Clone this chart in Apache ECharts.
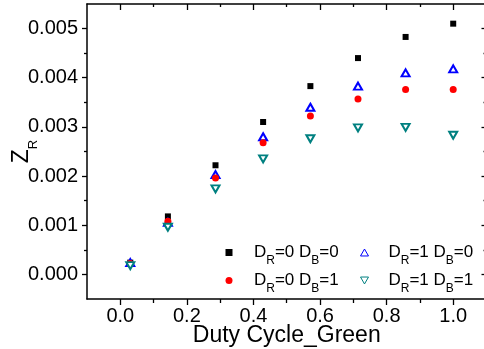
<!DOCTYPE html>
<html>
<head>
<meta charset="utf-8">
<script src="https://cdn.jsdelivr.net/npm/echarts@6/dist/echarts.min.js"></script>
<style>
html,body{margin:0;padding:0;background:#fff;}
#chart{width:484px;height:349px;}
</style>
</head>
<body>
<div id="chart"></div>
<script>
// ---- data ----
var xValues = [0.03, 0.143, 0.286, 0.429, 0.571, 0.714, 0.857, 1.0];
var seriesNames = ['DR=0 DB=0', 'DR=0 DB=1', 'DR=1 DB=0', 'DR=1 DB=1'];
var yR0B0 = [0.00024, 0.00118, 0.00222, 0.00310, 0.00383, 0.00440, 0.00483, 0.00510];
var yR0B1 = [0.00022, 0.00108, 0.00196, 0.00268, 0.00322, 0.00357, 0.00376, 0.00376];
var yR1B0 = [0.00024, 0.00106, 0.00203, 0.00280, 0.00340, 0.00383, 0.00410, 0.00418];
var yR1B1 = [0.00018, 0.00096, 0.00174, 0.00235, 0.00276, 0.00298, 0.00299, 0.00283];
var xTicks = [0.0, 0.2, 0.4, 0.6, 0.8, 1.0];
var xMinorTicks = [0.1, 0.3, 0.5, 0.7, 0.9];
var yTicks = [0.000, 0.001, 0.002, 0.003, 0.004, 0.005];
var yMinorTicks = [0.0005, 0.0015, 0.0025, 0.0035, 0.0045];
var xLabelsText = ['0.0', '0.2', '0.4', '0.6', '0.8', '1.0'];
var yLabelsText = ['0.000', '0.001', '0.002', '0.003', '0.004', '0.005'];

var FONT = '"Liberation Sans", Arial, sans-serif';
function pairs(ys) { return ys.map(function (y, i) { return [xValues[i], y]; }); }
function richName(name) {
  return ('{m|' + name.replace(/D([RB])/g, 'D}{s|$1}{m|') + '}').replace(/^\{m\|/, '{f|');
}
function labelFor(ticks, texts) {
  return function (v) {
    for (var i = 0; i < ticks.length; i++) if (Math.abs(ticks[i] - v) < 1e-9) return texts[i];
    return '';
  };
}

var XMIN = -0.1, XMAX = 1.1, YMIN = -0.0005, YMAX = 0.0055;
var lineStyle = { color: '#000', width: 1.5 };

function xAxisDef(pos, show, ticks, len, inside, labels) {
  return {
    type: 'value', position: pos, min: XMIN, max: XMAX, gridIndex: 0,
    splitLine: { show: false },
    axisLine: { show: show, onZero: false, lineStyle: lineStyle },
    axisTick: { show: true, inside: inside, length: len, customValues: ticks, lineStyle: { color: '#000', width: 1.3 } },
    axisLabel: labels ? { show: true, customValues: xTicks, formatter: labelFor(xTicks, xLabelsText), fontFamily: FONT, fontSize: 20, color: '#000', margin: 7 } : { show: false },
    name: labels ? 'Duty Cycle_Green' : '',
    nameLocation: 'middle', nameGap: 25, nameMoveOverlap: false,
    nameTextStyle: { fontFamily: FONT, fontSize: 23, color: '#000' }
  };
}
function yAxisDef(pos, show, ticks, len, inside, labels) {
  return {
    type: 'value', position: pos, min: YMIN, max: YMAX, gridIndex: 0,
    splitLine: { show: false },
    axisLine: { show: show, onZero: false, lineStyle: lineStyle },
    axisTick: { show: true, inside: inside, length: len, customValues: ticks, lineStyle: { color: '#000', width: 1.3 } },
    axisLabel: labels ? { show: true, customValues: yTicks, formatter: labelFor(yTicks, yLabelsText), fontFamily: FONT, fontSize: 20, color: '#000', margin: 9 } : { show: false },
    name: labels ? '{m|Z}{s|R}' : '',
    nameLocation: 'middle', nameGap: 47, nameRotate: 90, nameMoveOverlap: false,
    nameTextStyle: {
      fontFamily: FONT, color: '#000',
      rich: {
        m: { fontFamily: FONT, fontSize: 23, color: '#000' },
        s: { fontFamily: FONT, fontSize: 13, color: '#000', padding: [24, 0, 0, 0] }
      }
    }
  };
}

function legendDef(left, top, item, w, h, lead) {
  return {
    orient: 'vertical', left: left, top: top, padding: 0,
    itemWidth: w, itemHeight: h, selectedMode: false,
    data: [item], formatter: richName,
    textStyle: {
      fontFamily: FONT, fontSize: 17, color: '#000',
      rich: {
        f: { fontFamily: FONT, fontSize: 17, color: '#000', padding: [0, 0, 0, lead] },
        m: { fontFamily: FONT, fontSize: 17, color: '#000' },
        s: { fontFamily: FONT, fontSize: 12, color: '#000', padding: [17, 0, 0, 0] }
      }
    }
  };
}

var chart = echarts.init(document.getElementById('chart'), null, { renderer: 'canvas' });
chart.setOption({
  animation: false,
  backgroundColor: '#fff',
  grid: { left: 87, top: 4, width: 399.5, height: 295, containLabel: false, outerBoundsMode: 'none' },
  legend: [
    legendDef(225.5, 244, { name: seriesNames[0] }, 7, 7, 16.5),
    legendDef(225.5, 272, { name: seriesNames[1] }, 7, 7, 16.5),
    legendDef(360, 244, { name: seriesNames[2], icon: 'path://M5,0L10,8.7L0,8.7Z',
      itemStyle: { color: '#fff', borderColor: '#0000ff', borderWidth: 1 } }, 8, 7, 15),
    legendDef(360, 272, { name: seriesNames[3], icon: 'path://M0,0L10,0L5,8.7Z',
      itemStyle: { color: '#fff', borderColor: '#008080', borderWidth: 1 } }, 8, 7, 15)
  ],
  xAxis: [
    xAxisDef('bottom', true, xTicks, 6, false, true),
    xAxisDef('bottom', false, xMinorTicks, 4, false, false),
    xAxisDef('top', true, xTicks, 6, true, false),
    xAxisDef('top', false, xMinorTicks, 3, true, false)
  ],
  yAxis: [
    yAxisDef('left', true, yTicks, 5, false, true),
    yAxisDef('left', false, yMinorTicks, 3, false, false),
    yAxisDef('right', true, yTicks, 5, true, false),
    yAxisDef('right', false, yMinorTicks, 3, true, false)
  ],
  series: [
    { name: seriesNames[0], type: 'scatter', data: pairs(yR0B0), symbol: 'rect', symbolSize: 6,
      itemStyle: { color: '#000', opacity: 1 }, z: 2 },
    { name: seriesNames[2], type: 'scatter', data: pairs(yR1B0), symbol: 'emptyTriangle', symbolSize: [8, 7],
      itemStyle: { color: '#0000ff', borderColor: '#0000ff', borderWidth: 0.9, opacity: 1 }, z: 3 },
    { name: seriesNames[1], type: 'scatter', data: pairs(yR0B1), symbol: 'circle', symbolSize: 7,
      itemStyle: { color: '#ff0000', opacity: 1 }, z: 4 },
    { name: seriesNames[3], type: 'scatter', data: pairs(yR1B1), symbol: 'emptyTriangle', symbolSize: [8, 7], symbolRotate: 180,
      itemStyle: { color: '#008080', borderColor: '#008080', borderWidth: 0.9, opacity: 1 }, z: 5 }
  ]
});
</script>
</body>
</html>
